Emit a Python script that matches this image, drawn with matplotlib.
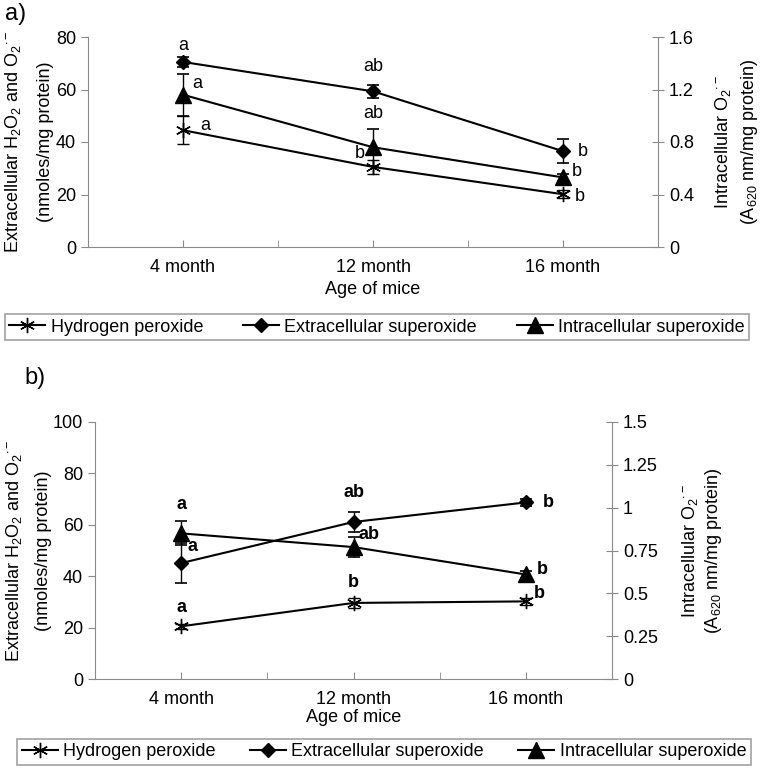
import matplotlib.pyplot as plt
from matplotlib.lines import Line2D
from matplotlib.ticker import FixedLocator

plt.rcParams['font.family'] = ['Liberation Sans', 'DejaVu Sans']
plt.rcParams['mathtext.fontset'] = 'custom'
plt.rcParams['mathtext.rm'] = 'Liberation Sans'
plt.rcParams['mathtext.it'] = 'Liberation Sans:italic'
plt.rcParams['mathtext.bf'] = 'Liberation Sans:bold'

# categories
ages = ['4 month', '12 month', '16 month']

# panel a
a_h2o2 = [44.5, 30.5, 20.1]
a_h2o2_err = [5.3, 2.5, 1.5]
a_extra = [70.5, 59.3, 36.5]
a_extra_err = [2.0, 2.5, 4.6]
a_intra = [1.16, 0.76, 0.53]          # right axis
a_intra_err = [0.16, 0.14, 0.03]
a_left_ticks = [0, 20, 40, 60, 80]
a_right_ticks = [0, 0.4, 0.8, 1.2, 1.6]
a_right_labels = ['0', '0.4', '0.8', '1.2', '1.6']
# letters: (text, x, y) in left-axis units
a_letters = [('a', 0.0, 76.8), ('a', 0.075, 62.2), ('a', 0.116, 46.4),
             ('ab', 1.0, 68.6), ('ab', 1.0, 50.8), ('b', 0.93, 35.6),
             ('b', 2.106, 36.5), ('b', 2.075, 28.6), ('b', 2.086, 19.3)]

# panel b
b_h2o2 = [20.5, 29.6, 30.2]
b_h2o2_err = [1.0, 2.0, 1.5]
b_extra = [45.1, 61.1, 68.7]
b_extra_err = [7.7, 3.8, 1.5]
b_intra = [0.85, 0.77, 0.61]
b_intra_err = [0.07, 0.06, 0.02]
b_left_ticks = [0, 20, 40, 60, 80, 100]
b_right_ticks = [0, 0.25, 0.5, 0.75, 1.0, 1.25, 1.5]
b_right_labels = ['0', '0.25', '0.5', '0.75', '1', '1.25', '1.5']
b_letters = [('a', 0.0, 67.8), ('a', 0.068, 51.4), ('a', 0.0, 28.0),
             ('ab', 1.0, 72.5), ('ab', 1.089, 56.1), ('b', 1.0, 37.4),
             ('b', 2.128, 68.7), ('b', 2.095, 42.5), ('b', 2.08, 33.2)]

series_names = ['Hydrogen peroxide', 'Extracellular superoxide',
                'Intracellular superoxide']

W, H = 761, 769
fig = plt.figure(figsize=(W / 100, H / 100), dpi=100)
GRAY = '#8a8a8a'
FS = 13

left_lab1 = r'Extracellular H$_2$O$_2$ and O$_2$$^{\cdot -}$'
left_lab2 = '(nmoles/mg protein)'
right_lab1 = r'Intracellular O$_2$$^{\cdot -}$'
right_lab2 = r'(A$_{620}$ nm/mg protein)'

MARKERS = [dict(marker=(6, 2, 0), ms=11, mew=1),
           dict(marker='D', ms=7),
           dict(marker='^', ms=11)]


def panel(box, h2o2, h2o2_err, extra, extra_err, intra, intra_err,
          lticks, ylim_l, rticks, rlabels, ylim_r, letters, bold,
          lab_x, rlab_x, leg_c, xlab_y, colsp):
    x0, y0, x1, y1 = box
    ax = fig.add_axes([x0 / W, 1 - y1 / H, (x1 - x0) / W, (y1 - y0) / H])
    ax2 = ax.twinx()
    xs = list(range(len(ages)))
    kw = dict(color='black', lw=1.5, capsize=4, elinewidth=1, capthick=1.2)
    ax.errorbar(xs, h2o2, yerr=h2o2_err, **MARKERS[0], **kw)
    ax.errorbar(xs, extra, yerr=extra_err, **MARKERS[1], **kw)
    ax2.errorbar(xs, intra, yerr=intra_err, **MARKERS[2], **kw)
    ax.set_xlim(-0.5, len(ages) - 0.5)
    ax.set_ylim(*ylim_l)
    ax2.set_ylim(*ylim_r)
    ax.set_yticks(lticks)
    ax.set_yticklabels([str(t) for t in lticks], fontsize=FS)
    ax2.set_yticks(rticks)
    ax2.set_yticklabels(rlabels, fontsize=FS)
    ax.set_xticks(xs)
    ax.set_xticklabels(ages, fontsize=FS)
    ax.xaxis.set_minor_locator(FixedLocator([0.5, 1.5]))
    ax.tick_params(axis='x', which='both', direction='in', length=5,
                   color=GRAY, pad=9)
    ax.tick_params(axis='y', direction='out', length=5, color=GRAY)
    ax2.tick_params(axis='y', direction='inout', length=9, color=GRAY)
    for a in (ax, ax2):
        for s in a.spines.values():
            s.set_color(GRAY)
        a.spines['top'].set_visible(False)
    ax.spines['right'].set_visible(False)
    ax2.spines['left'].set_visible(False)
    ax2.spines['bottom'].set_visible(False)
    for t, lx, ly in letters:
        ax.text(lx, ly, t, ha='center', va='center', fontsize=FS,
                fontweight='bold' if bold else 'normal')
    # axis titles
    yc = 1 - (y0 + y1) / 2 / H
    fig.text(lab_x[0] / W, yc, left_lab1, rotation=90, ha='center',
             va='center', fontsize=FS)
    fig.text(lab_x[1] / W, yc, left_lab2, rotation=90, ha='center',
             va='center', fontsize=FS)
    fig.text(rlab_x[0] / W, yc, right_lab1, rotation=90, ha='center',
             va='center', fontsize=FS)
    fig.text(rlab_x[1] / W, yc, right_lab2, rotation=90, ha='center',
             va='center', fontsize=FS)
    fig.text((x0 + x1) / 2 / W, 1 - xlab_y / H, 'Age of mice',
             ha='center', va='center', fontsize=FS)
    handles = [Line2D([], [], color='black', lw=1.5, **m) for m in MARKERS]
    leg = fig.legend(handles, series_names, loc='center', ncol=3,
                     bbox_to_anchor=(leg_c[0] / W, 1 - leg_c[1] / H),
                     fontsize=FS, fancybox=False, handlelength=2.0,
                     handletextpad=0.3, borderpad=0.25, borderaxespad=0,
                     columnspacing=colsp)
    leg.get_frame().set_edgecolor(GRAY)
    leg.get_frame().set_linewidth(1.2)
    return ax


panel((88, 37, 658, 247), a_h2o2, a_h2o2_err, a_extra, a_extra_err,
      a_intra, a_intra_err, a_left_ticks, (0, 80), a_right_ticks,
      a_right_labels, (0, 1.6), a_letters, False,
      (13, 46), (723, 750), (377, 327), 290, 2.2)

panel((95, 422, 612, 679), b_h2o2, b_h2o2_err, b_extra, b_extra_err,
      b_intra, b_intra_err, b_left_ticks, (0, 100), b_right_ticks,
      b_right_labels, (0, 1.5), b_letters, True,
      (14, 44), (690, 714), (384, 752), 718, 1.9)

fig.text(5 / W, 1 - 14 / H, 'a)', fontsize=17, va='center', ha='left')
fig.text(24 / W, 1 - 378 / H, 'b)', fontsize=17, va='center', ha='left')

fig.savefig('out.png', dpi=100)
